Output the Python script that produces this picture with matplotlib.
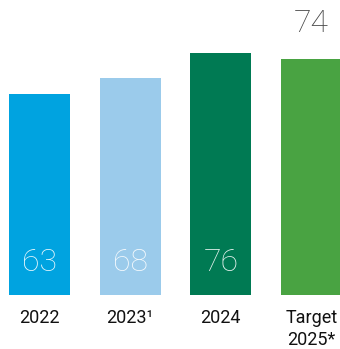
import matplotlib
matplotlib.use("Agg")
import matplotlib.pyplot as plt

categories = ["2022", "2023\u00b9", "2024", "Target\n2025*"]
values = [63, 68, 76, 74]
colors = ["#00A3E0", "#9BCBEB", "#007A53", "#49A342"]

fig = plt.figure(figsize=(3.40, 3.49), dpi=100)
ax = fig.add_axes([0, 54 / 349, 1, 295 / 349])

x = list(range(len(values)))
bars = ax.bar(x, values, width=0.67, color=colors)

# numbers sit near the foot of the actual bars, target is printed above
for i, v in enumerate(values[:3]):
    ax.text(x[i], 10.3, str(v), ha="center", va="center", color="white",
            fontsize=23, family="Roboto", fontweight="light", alpha=0.9)
ax.text(x[3], 85, str(values[3]), ha="center", va="center", color="#444444",
        fontsize=23, family="Roboto", fontweight="light")

ax.set_xlim(-0.434, 3.313)
ax.set_ylim(0, 92.5)
ax.set_xticks(x)
ax.set_xticklabels(categories, family="Roboto", fontweight="normal",
                   fontsize=13, color="#111111", linespacing=1.3)
ax.tick_params(axis="x", length=0, pad=10)
ax.set_yticks([])
for s in ax.spines.values():
    s.set_visible(False)

fig.savefig("out.png", dpi=100)
